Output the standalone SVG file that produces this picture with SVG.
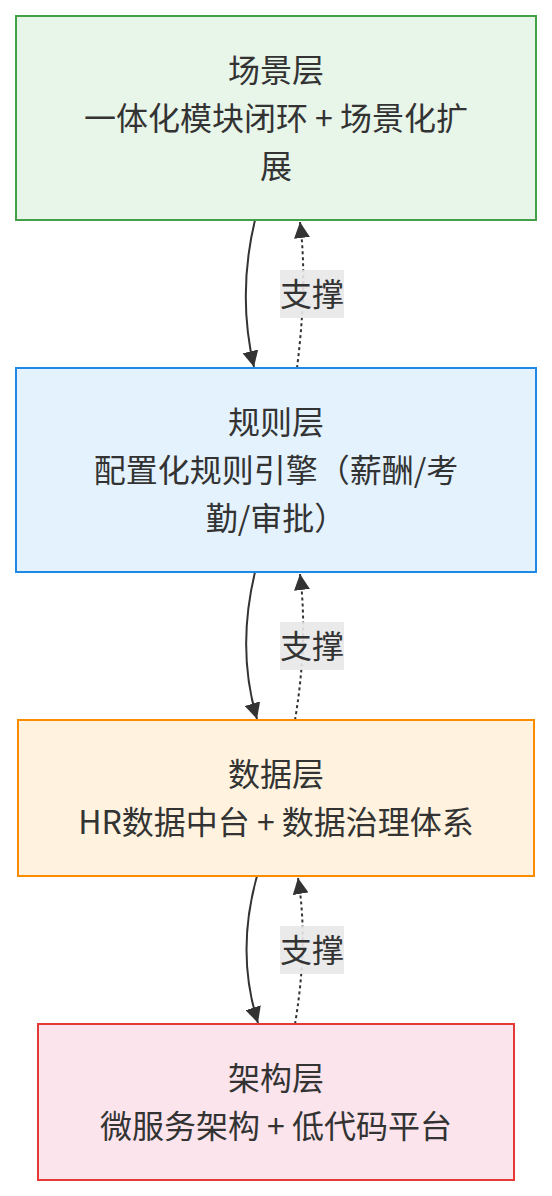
<svg xmlns="http://www.w3.org/2000/svg" width="552" height="1196" viewBox="0 0 552 1196">
<defs>
<style>
.t{font-family:"Noto Sans CJK SC","Noto Sans",sans-serif;font-size:32px;fill:#333;text-anchor:middle;dominant-baseline:central}
.e{fill:none;stroke:#333;stroke-width:2}
.d{stroke-dasharray:3 3}
.lb{fill:#e8e8e8;opacity:0.9}
</style>
<marker id="ah" viewBox="0 0 16 16" refX="16" refY="8" markerWidth="16" markerHeight="16" markerUnits="userSpaceOnUse" orient="auto">
<path d="M0,0 L16,8 L0,16 z" fill="#333"/>
</marker>
</defs>
<rect width="552" height="1196" fill="#fff"/>
<g id="connectors">
<path class="e" d="M255,220 C243,270 243,320 254,367" marker-end="url(#ah)"/>
<path class="e d" d="M297,368 C303,320 306,270 300,222" marker-end="url(#ah)"/>
<path class="e" d="M255,572 C243,622 243,672 257,719" marker-end="url(#ah)"/>
<path class="e d" d="M295,720 C303,672 306,622 300,574" marker-end="url(#ah)"/>
<path class="e" d="M257,876 C243,926 243,976 258,1023" marker-end="url(#ah)"/>
<path class="e d" d="M295,1024 C303,976 306,926 298,878" marker-end="url(#ah)"/>
<g id="label1"><rect class="lb" x="280" y="270" width="64" height="48"/><text class="t" x="312" y="292">支撑</text></g>
<g id="label2"><rect class="lb" x="280" y="622" width="64" height="48"/><text class="t" x="312" y="644">支撑</text></g>
<g id="label3"><rect class="lb" x="280" y="926" width="64" height="48"/><text class="t" x="312" y="948">支撑</text></g>
</g>
<g id="scene">
<rect x="16" y="16" width="520" height="204" fill="#e8f5e9" stroke="#43a047" stroke-width="2"/>
<text class="t" x="276" y="68">场景层</text>
<text class="t" x="276" y="116">一体化模块闭环 + 场景化扩</text>
<text class="t" x="276" y="164">展</text>
</g>
<g id="rule">
<rect x="16" y="368" width="520" height="204" fill="#e3f2fd" stroke="#1e88e5" stroke-width="2"/>
<text class="t" x="276" y="420">规则层</text>
<text class="t" x="276" y="468">配置化规则引擎（薪酬/考</text>
<text class="t" x="276" y="516">勤/审批）</text>
</g>
<g id="data">
<rect x="18" y="720" width="516" height="156" fill="#fff3e0" stroke="#fb8c00" stroke-width="2"/>
<text class="t" x="276" y="772">数据层</text>
<text class="t" x="276" y="820">HR数据中台 + 数据治理体系</text>
</g>
<g id="arch">
<rect x="38" y="1024" width="476" height="156" fill="#fce4ec" stroke="#e53935" stroke-width="2"/>
<text class="t" x="276" y="1076">架构层</text>
<text class="t" x="276" y="1124">微服务架构 + 低代码平台</text>
</g>
</svg>
